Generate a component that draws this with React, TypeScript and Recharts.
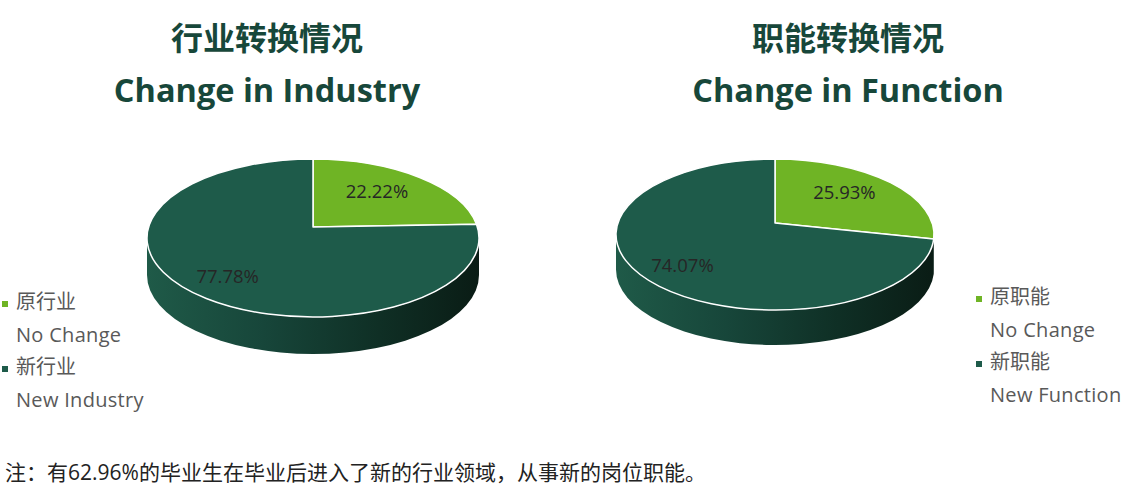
import React from 'react';
import { PieChart, Pie, Cell, Legend } from 'recharts';

const industryNames = ['原行业', '新行业'];
const industryNamesEn = ['No Change', 'New Industry'];
const industryValues = [22.22, 77.78];

const functionNames = ['原职能', '新职能'];
const functionNamesEn = ['No Change', 'New Function'];
const functionValues = [25.93, 74.07];

const sliceColors = ['#6fb425', '#1e5b4a'];

const FONT = '"Open Sans", "Noto Sans CJK SC", sans-serif';
const TITLE_COLOR = '#17473a';

const toRows = (names: string[], values: number[]) =>
  names.map((name, i) => ({ name, value: values[i], fill: sliceColors[i] }));

// elliptical "3d" sector drawn from the angles recharts computed
function makeShape(id: string, ryRatio: number, lift: number, depth: number) {
  return (props: any) => {
    const { cx, cy, outerRadius, startAngle, endAngle, fill } = props;
    const rx = outerRadius;
    const ry = outerRadius * ryRatio;
    const pt = (a: number, dy = 0) => {
      const r = (a * Math.PI) / 180;
      return `${cx + rx * Math.cos(r)},${cy - ry * Math.sin(r) + dy}`;
    };
    const lo = Math.min(startAngle, endAngle);
    const hi = Math.max(startAngle, endAngle);
    const walls: [number, number][] = [];
    for (const k of [-720, -360, 0, 360]) {
      const a0 = Math.max(lo, -180 + k);
      const a1 = Math.min(hi, k);
      if (a1 > a0) walls.push([a0, a1]);
    }
    const sweep = startAngle > endAngle ? 1 : 0;
    const large = hi - lo > 180 ? 1 : 0;
    const top = `M${cx},${cy - lift} L${pt(startAngle)} A${rx},${ry} 0 ${large} ${sweep} ${pt(endAngle)} Z`;
    return (
      <g>
        <defs>
          <linearGradient id={id} x1="0" y1="0" x2="1" y2="0">
            <stop offset="0%" stopColor="#1f5a48" />
            <stop offset="35%" stopColor="#17463a" />
            <stop offset="70%" stopColor="#0f2f25" />
            <stop offset="100%" stopColor="#0a1c15" />
          </linearGradient>
        </defs>
        {walls.map(([a0, a1], i) => (
          <path
            key={i}
            d={`M${pt(a1)} A${rx},${ry} 0 0 1 ${pt(a0)} L${pt(a0, depth)} A${rx},${ry} 0 0 0 ${pt(a1, depth)} Z`}
            fill={`url(#${id})`}
            stroke="none"
          />
        ))}
        <path d={top} fill={fill} stroke="#ffffff" strokeWidth={1.5} strokeLinejoin="round" />
      </g>
    );
  };
}

function makeLabel(ryRatio: number, lift: number) {
  return (props: any) => {
    const { cx, cy, midAngle, outerRadius, percent, value } = props;
    const f = percent < 0.5 ? 0.6 : 0.8;
    const r = (midAngle * Math.PI) / 180;
    const x = cx + f * outerRadius * Math.cos(r);
    const y = cy - lift - f * outerRadius * ryRatio * Math.sin(r);
    return (
      <text x={x} y={y} textAnchor="middle" dominantBaseline="central" fill="#262626" fontSize={18.5} fontFamily={FONT}>
        {`${Number(value).toFixed(2)}%`}
      </text>
    );
  };
}

function makeLegend(en: string[]) {
  return (props: any) => {
    const payload = props.payload || [];
    return (
      <div style={{ fontFamily: FONT, fontSize: 20, color: '#595959', lineHeight: '32.5px', textAlign: 'left', whiteSpace: 'nowrap' }}>
        {payload.map((entry: any, i: number) => (
          <div key={i}>
            <div>
              <span
                style={{
                  display: 'inline-block',
                  width: 6,
                  height: 6,
                  background: entry.color || sliceColors[i],
                  marginRight: 8,
                  verticalAlign: 'middle',
                }}
              />
              {entry.value}
            </div>
            <div style={{ paddingLeft: 14, letterSpacing: 0.3 }}>{en[i]}</div>
          </div>
        ))}
      </div>
    );
  };
}

interface PieProps {
  id: string;
  rows: { name: string; value: number; fill: string }[];
  en: string[];
  cx: number;
  cy: number;
  r: number;
  ryRatio: number;
  lift: number;
  depth: number;
  legendLeft: number;
  legendTop: number;
}

function Pie3D({ id, rows, en, cx, cy, r, ryRatio, lift, depth, legendLeft, legendTop }: PieProps) {
  const shape = makeShape(id, ryRatio, lift, depth);
  return (
    <PieChart width={580} height={494} margin={{ top: 0, right: 0, bottom: 0, left: 0 }}>
      <Pie
        data={rows}
        dataKey="value"
        nameKey="name"
        cx={cx}
        cy={cy}
        innerRadius={0}
        outerRadius={r}
        startAngle={90}
        endAngle={-270}
        stroke="#ffffff"
        isAnimationActive={false}
        labelLine={false}
        label={makeLabel(ryRatio, lift)}
        shape={shape}
        activeShape={shape}
        inactiveShape={shape}
      >
        {rows.map((d, i) => (
          <Cell key={i} fill={d.fill} />
        ))}
      </Pie>
      <Legend
        layout="vertical"
        align="center"
        verticalAlign="middle"
        content={makeLegend(en)}
        wrapperStyle={{ left: legendLeft, top: legendTop, width: 'auto' }}
      />
    </PieChart>
  );
}

const titleBase: React.CSSProperties = {
  position: 'absolute',
  width: 500,
  textAlign: 'center',
  fontFamily: FONT,
  fontWeight: 700,
  color: TITLE_COLOR,
  whiteSpace: 'nowrap',
};

export default function App() {
  return (
    <div style={{ position: 'absolute', left: 0, top: 0, width: 1144, height: 494, background: '#ffffff', overflow: 'hidden' }}>
      <div style={{ ...titleBase, left: 17, top: 18, fontSize: 32, lineHeight: '40px' }}>行业转换情况</div>
      <div style={{ ...titleBase, left: 17, top: 70, fontSize: 32.5, lineHeight: '40px' }}>Change in Industry</div>
      <div style={{ ...titleBase, left: 598, top: 18, fontSize: 32, lineHeight: '40px' }}>职能转换情况</div>
      <div style={{ ...titleBase, left: 598, top: 70, fontSize: 32.5, lineHeight: '40px' }}>Change in Function</div>

      <div style={{ position: 'absolute', left: 0, top: 0 }}>
        <Pie3D
          id="wallA"
          rows={toRows(industryNames, industryValues)}
          en={industryNamesEn}
          cx={313}
          cy={238}
          r={166}
          ryRatio={79 / 166}
          lift={11}
          depth={37}
          legendLeft={2}
          legendTop={286}
        />
      </div>
      <div style={{ position: 'absolute', left: 560, top: 0 }}>
        <Pie3D
          id="wallB"
          rows={toRows(functionNames, functionValues)}
          en={functionNamesEn}
          cx={215}
          cy={234.5}
          r={159}
          ryRatio={75.5 / 159}
          lift={11.5}
          depth={35}
          legendLeft={416}
          legendTop={281}
        />
      </div>

      <div
        style={{
          position: 'absolute',
          left: 5,
          top: 458,
          fontFamily: FONT,
          fontSize: 21,
          lineHeight: '28px',
          color: '#222222',
          whiteSpace: 'nowrap',
        }}
      >
        注：有62.96%的毕业生在毕业后进入了新的行业领域，从事新的岗位职能。
      </div>
    </div>
  );
}
